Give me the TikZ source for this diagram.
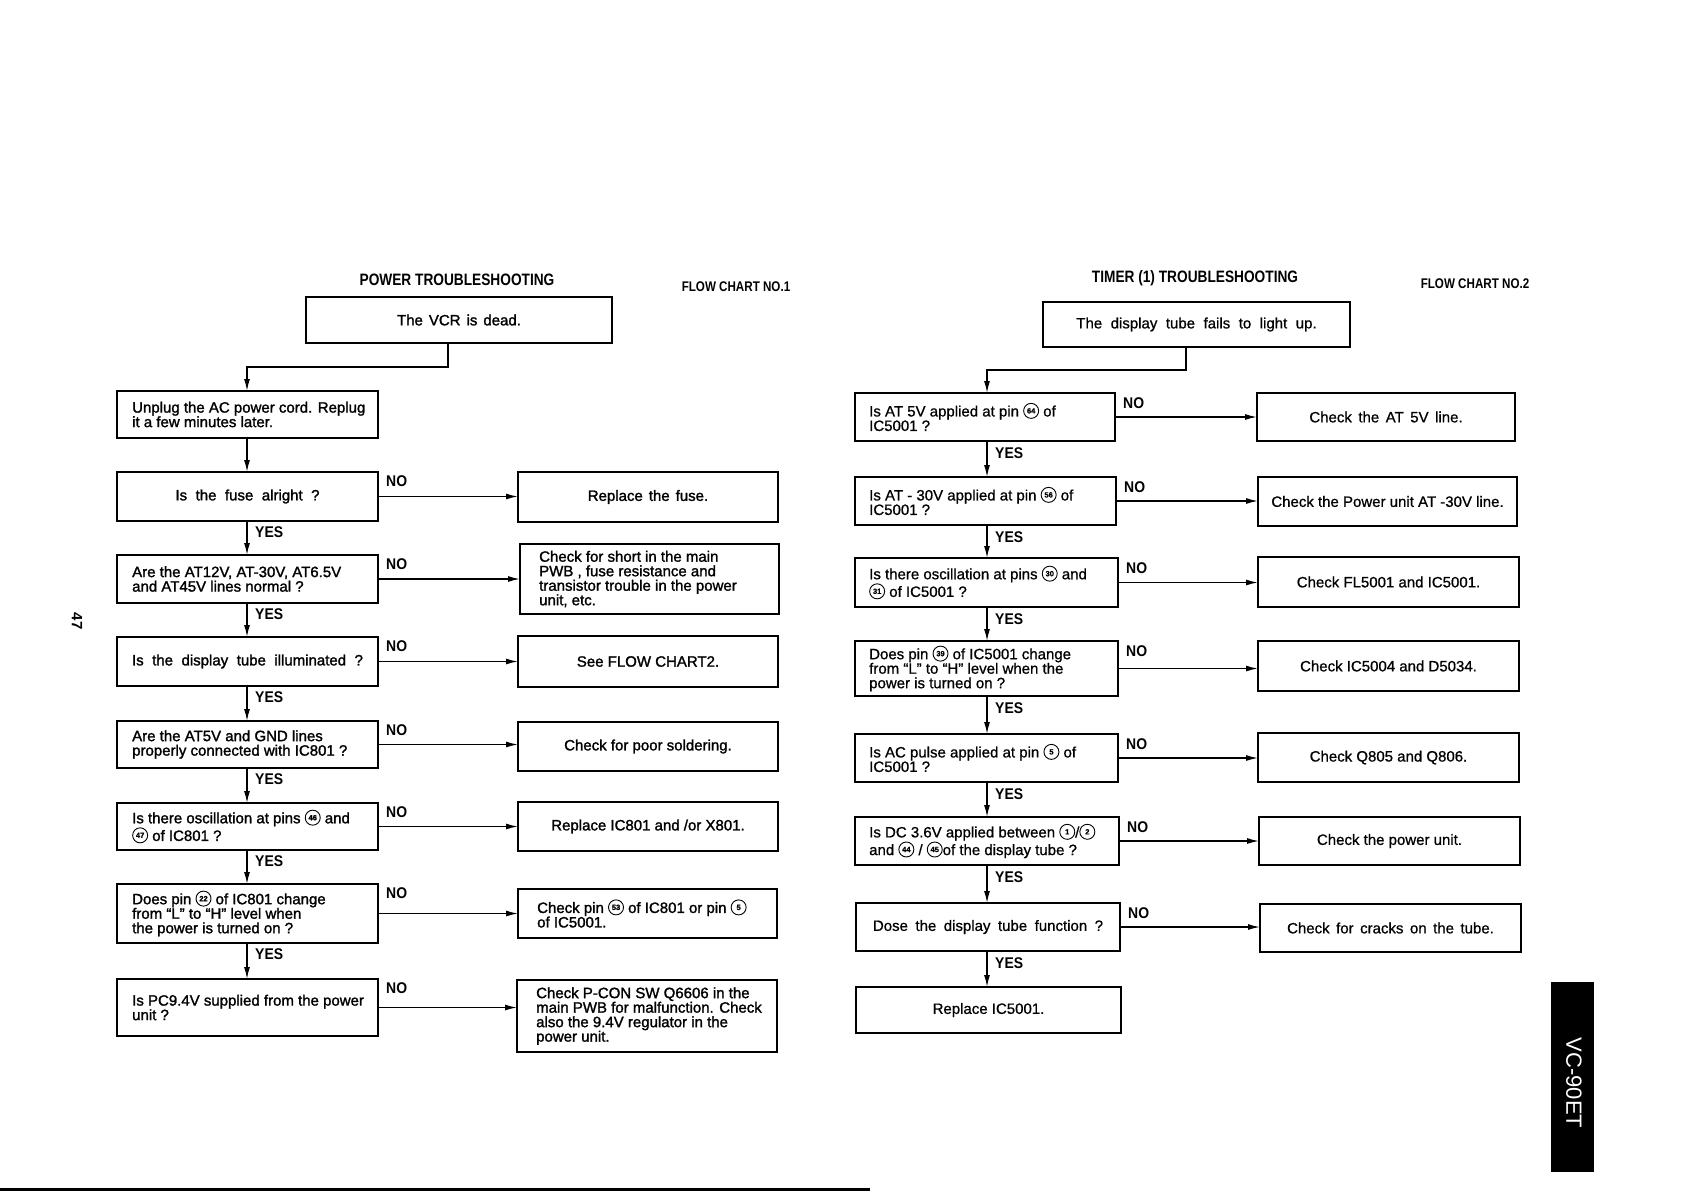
\documentclass[tikz,border=0pt]{standalone}
\usepackage{fontspec}
\setmainfont{Liberation Sans}
\newfontfamily\condf{Liberation Sans}[FakeStretch=0.83]
\newfontfamily\lblf{Liberation Sans}[FakeStretch=0.9]
\newfontfamily\heavyf{Liberation Sans}[FakeBold=1.5]
\newfontfamily\midf{Liberation Sans}[FakeBold=0.8]
\usetikzlibrary{arrows.meta}

\tikzset{
  qbox/.style={draw, line width=1.8pt, inner sep=0pt, outer sep=0pt},
  txtL/.style={inner sep=0pt, font=\heavyf\fontsize{15}{14.5}\selectfont},
  txtR/.style={inner sep=0pt, font=\midf\fontsize{15}{14.5}\selectfont},
  curtxt/.style=txtL,
  lbl/.style={font=\lblf\bfseries\fontsize{15.5}{15.5}\selectfont, inner sep=0pt},
  ttl/.style={font=\condf\bfseries\fontsize{16.5}{16.5}\selectfont, inner sep=0pt},
  fc/.style={font=\condf\bfseries\fontsize{14}{14}\selectfont, inner sep=0pt},
  arr/.style={line width=1.4pt, -{Latex[length=12pt,width=6pt]}},
  pinnode/.style={circle, draw, line width=0.9pt, inner sep=0pt, outer sep=0pt,
    minimum size=15pt, text width={}, align=center,
    font=\fontsize{7.5}{7.5}\bfseries\selectfont, text=black},
}

\newcommand\pin[1]{\tikz[baseline={([yshift=-3pt]P.base)}]\node[pinnode] (P) {#1};}
\newcommand\wsp[2]{{\spaceskip=#1pt plus 1pt\relax #2}}

% #1 xsep, #2 name, #3 x1, #4 y1, #5 x2, #6 y2, #7 c or l, #8 text
\newcommand\bx[8][15]{%
  \pgfmathsetmacro\bw{#5-#3}%
  \pgfmathsetmacro\bh{#6-#4}%
  \node[qbox, anchor=north west, minimum width=\bw pt, minimum height=\bh pt] (#2) at (#3,#4) {};%
  \ifx c#7%
    \node[curtxt, align=center] (#2t) at (#2.center) {#8};%
  \else
    \node[curtxt, align=left, anchor=west] (#2t) at ([xshift=#1pt]#2.west) {#8};%
  \fi}

\begin{document}
\begin{tikzpicture}[x=1pt,y=-1pt]
\fill[white] (0,0) rectangle (1683,1191);
\useasboundingbox (0,0) rectangle (1683,1191);

% ---------------- FLOW CHART 1 ----------------
\node[ttl] (t1) at (457,280) {POWER TROUBLESHOOTING};
\node[fc] (f1) at (736,287) {FLOW CHART NO.1};

\tikzset{curtxt/.style=txtL}
\bx{s1}{306}{297}{612}{343}{c}{\wsp{6}{The VCR is dead.}}
\bx{L1}{117}{391}{378}{438}{l}{Unplug the AC power cord. Replug\\it a few minutes later.}
\bx{L2}{117}{472}{378}{521}{c}{\wsp{8.5}{Is the fuse alright ?}}
\bx{L3}{117}{555}{378}{603}{l}{Are the AT12V, AT-30V, AT6.5V\\and AT45V lines normal ?}
\bx{L4}{117}{637}{378}{686}{c}{\wsp{8.5}{Is the display tube illuminated ?}}
\bx{L5}{117}{721}{378}{768}{l}{Are the AT5V and GND lines\\properly connected with IC801 ?}
\bx{L6}{117}{803}{378}{850}{l}{Is there oscillation at pins \pin{46} and\\\pin{47} of IC801 ?}
\bx{L7}{117}{884}{378}{943}{l}{Does pin \pin{22} of IC801 change\\from “L” to “H” level when\\the power is turned on ?}
\bx{L8}{117}{979}{378}{1036}{l}{Is PC9.4V supplied from the power\\unit ?}

\bx{A1}{518}{472}{778}{522}{c}{\wsp{6}{Replace the fuse.}}
\bx[19]{A2}{520}{544}{779}{614}{l}{Check for short in the main\\PWB , fuse resistance and\\transistor trouble in the power\\unit, etc.}
\bx{A3}{518}{636}{778}{687}{c}{See FLOW CHART2.}
\bx{A4}{518}{722}{778}{771}{c}{Check for poor soldering.}
\bx{A5}{518}{802}{778}{851}{c}{Replace IC801 and /or X801.}
\bx[19]{A6}{518}{889}{777}{938}{l}{Check pin \pin{53} of IC801 or pin \pin{5}\\of IC5001.}
\bx[19]{A7}{517}{980}{777}{1052}{l}{Check P-CON SW Q6606 in the\\main PWB for malfunction. Check\\also the 9.4V regulator in the\\power unit.}

\draw[line width=2.6pt] (s1.north west) rectangle (s1.south east);

\coordinate (colL) at (247,0);
\coordinate (k1) at (448,367);
\coordinate (k2) at (247,367);
\draw[arr] (s1.south -| k1) -- (k1) -- (k2) -- (L1.north -| k2);
\draw[arr] (L1.south -| colL) -- (L2.north -| colL);
\foreach \a/\b in {L2/L3, L3/L4, L4/L5, L5/L6, L6/L7, L7/L8} {
  \draw[arr] (\a.south -| colL) -- (\b.north -| colL);
  \node[lbl, anchor=west] at ([xshift=8pt,yshift=-11pt]\a.south -| colL) {YES};
}
\foreach \q/\r in {L2/A1, L3/A2, L4/A3, L5/A4, L6/A5, L7/A6, L8/A7} {
  \draw[arr] (\q.east) -- (\q.east -| \r.west);
  \node[lbl, anchor=west] at ([xshift=8pt,yshift=-9pt]\q.north east) {NO};
}

% ---------------- FLOW CHART 2 ----------------
\node[ttl] (t2) at (1195,278) {TIMER (1) TROUBLESHOOTING};
\node[fc] (f2) at (1475,284) {FLOW CHART NO.2};

\tikzset{curtxt/.style=txtR}
\bx{s2}{1043}{302}{1350}{347}{c}{\wsp{8.5}{The display tube fails to light up.}}
\bx[14]{R1}{855}{393}{1115}{441}{l}{Is AT 5V applied at pin \pin{64} of\\IC5001 ?}
\bx[14]{R2}{855}{477}{1116}{525}{l}{Is AT - 30V applied at pin \pin{56} of\\IC5001 ?}
\bx[14]{R3}{855}{558}{1118}{607}{l}{Is there oscillation at pins \pin{30} and\\\pin{31} of IC5001 ?}
\bx[14]{R4}{855}{641}{1118}{696}{l}{Does pin \pin{39} of IC5001 change\\from “L” to “H” level when the\\power is turned on ?}
\bx[14]{R5}{855}{734}{1118}{782}{l}{Is AC pulse applied at pin \pin{5} of\\IC5001 ?}
\bx[14]{R6}{855}{817}{1119}{865}{l}{Is DC 3.6V applied between \pin{1}/\pin{2}\\and \pin{44} / \pin{45}of the display tube ?}
\bx{R7}{856}{903}{1120}{951}{c}{\wsp{7.5}{Dose the display tube function ?}}
\bx{R8}{856}{987}{1121}{1033}{c}{Replace IC5001.}

\bx{B1}{1257}{393}{1515}{441}{c}{\wsp{6.5}{Check the AT 5V line.}}
\bx{B2}{1258}{477}{1517}{526}{c}{Check the Power unit AT -30V line.}
\bx{B3}{1258}{557}{1519}{607}{c}{Check FL5001 and IC5001.}
\bx{B4}{1258}{641}{1519}{691}{c}{Check IC5004 and D5034.}
\bx{B5}{1258}{733}{1519}{782}{c}{Check Q805 and Q806.}
\bx{B6}{1259}{817}{1520}{865}{c}{Check the power unit.}
\bx{B7}{1260}{904}{1521}{952}{c}{\wsp{6.5}{Check for cracks on the tube.}}

\draw[line width=2.6pt] (s2.north west) rectangle (s2.south east);

\coordinate (colR) at (987,0);
\coordinate (k3) at (1186,370);
\coordinate (k4) at (987,370);
\draw[arr] (s2.south -| k3) -- (k3) -- (k4) -- (R1.north -| k4);
\foreach \a/\b in {R1/R2, R2/R3, R3/R4, R4/R5, R5/R6, R6/R7, R7/R8} {
  \draw[arr] (\a.south -| colR) -- (\b.north -| colR);
  \node[lbl, anchor=west] at ([xshift=8pt,yshift=-12pt]\a.south -| colR) {YES};
}
\foreach \q/\r in {R1/B1, R2/B2, R3/B3, R4/B4, R5/B5, R6/B6, R7/B7} {
  \draw[arr] (\q.east) -- (\q.east -| \r.west);
  \node[lbl, anchor=west] at ([xshift=8pt,yshift=-10pt]\q.north east) {NO};
}

% ---------------- page furniture ----------------
\node[font=\bfseries\fontsize{15}{15}\selectfont, rotate=-90, inner sep=0pt] (pg) at (77,621) {47};
\fill[black] (1551,982) rectangle (1594,1172);
\node[font=\fontsize{22}{22}\selectfont, text=white, rotate=-90, inner sep=0pt] (vc) at (1574,1083) {VC-90ET};
\draw[line width=3pt] (0,1189.5) -- (870,1189.5);
\end{tikzpicture}
\end{document}
